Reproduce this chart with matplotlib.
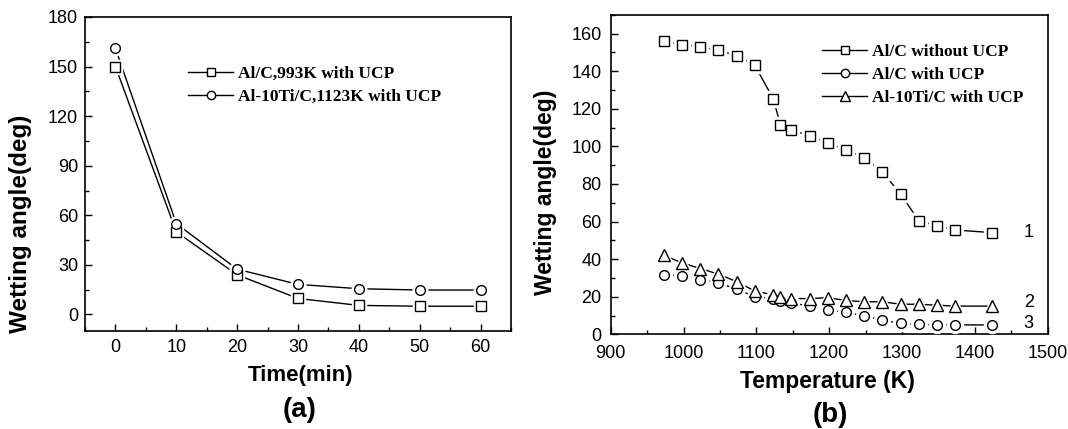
import matplotlib
matplotlib.use("Agg")
import matplotlib.pyplot as plt
from matplotlib.ticker import MultipleLocator

# ---------------- data ----------------
time_min = [0, 10, 20, 30, 40, 50, 60]
alc_993 = [150, 50, 24, 9.7, 5.5, 5, 5]
alti_1123 = [161, 55, 27.4, 18.2, 15.6, 14.8, 14.8]
left_labels = ["Al/C,993K with UCP", "Al-10Ti/C,1123K with UCP"]

temp_K = [973, 998, 1023, 1048, 1073, 1098, 1123, 1133, 1148, 1173,
          1198, 1223, 1248, 1273, 1298, 1323, 1348, 1373, 1423]
alc_without = [156, 154, 153, 151, 148.3, 143, 125.4, 111.6, 108.7, 105.7,
               101.8, 98.3, 94, 86.5, 74.6, 60.5, 57.6, 55.5, 54.1]
alc_with = [31.8, 31, 29, 27.4, 24, 20, 19, 17.9, 16.8, 15,
            12.9, 11.7, 9.9, 7.6, 5.8, 5.3, 5, 5, 5]
alti_with = [42, 38, 35, 32, 28, 23, 21, 20, 19, 19,
             19.5, 18, 17.3, 17.3, 16, 16, 15.5, 15, 15]
right_labels = ["Al/C without UCP", "Al/C with UCP", "Al-10Ti/C with UCP"]
curve_ids = ["1", "2", "3"]
curve_id_x = [1474, 1474, 1474]
curve_id_y = [54.3, 17, 5.5]

# ---------------- style ----------------
sans = ["Liberation Sans", "DejaVu Sans"]
serif = ["Liberation Serif", "DejaVu Serif"]
plt.rcParams["font.family"] = sans
fig = plt.figure(figsize=(10.68, 4.29), dpi=100)


def draw_series(ax, x, y, marker, ms, halo, label):
    ax.plot(x, y, color="black", lw=1.0, zorder=2)
    ax.plot(x, y, ls="none", marker=marker, ms=ms + halo, mfc="white",
            mec="white", mew=1.0, zorder=3)
    ax.plot(x, y, ls="none", marker=marker, ms=ms, mfc="white",
            mec="black", mew=1.0, zorder=4)
    return plt.Line2D([], [], color="black", lw=1.0, marker=marker,
                      ms=ms - 1, mfc="white", mec="black", mew=1.0, label=label)


def style_axes(ax, xpad, ypad):
    for s in ax.spines.values():
        s.set_linewidth(1.2)
    ax.tick_params(which="both", direction="in", top=False, right=False,
                   labelsize=13)
    ax.tick_params(which="major", length=5, width=1.0)
    ax.tick_params(which="minor", length=3, width=1.0)
    ax.tick_params(axis="x", pad=xpad)
    ax.tick_params(axis="y", pad=ypad)


# ---------------- (a) ----------------
ax1 = fig.add_axes([0.0796, 0.2284, 0.3989, 0.732])
h1 = draw_series(ax1, time_min, alc_993, "s", 6.5, 3.5, left_labels[0])
h2 = draw_series(ax1, time_min, alti_1123, "o", 7.0, 3.5, left_labels[1])
ax1.set_xlim(-5, 65)
ax1.set_ylim(-10, 180)
ax1.xaxis.set_major_locator(MultipleLocator(10))
ax1.xaxis.set_minor_locator(MultipleLocator(5))
ax1.yaxis.set_major_locator(MultipleLocator(30))
ax1.yaxis.set_minor_locator(MultipleLocator(15))
style_axes(ax1, 5.5, 5)
ax1.set_xlabel("Time(min)", fontweight="bold", fontsize=16)
ax1.set_ylabel("Wetting angle(deg)", fontweight="bold", fontsize=17.5)
ax1.xaxis.set_label_coords(0.505, -0.108)
ax1.yaxis.set_label_coords(-0.124, 0.341)
ax1.legend(handles=[h1, h2], loc="upper left", bbox_to_anchor=(0.242, 0.844),
           frameon=False, borderpad=0, borderaxespad=0, handlelength=2.6,
           handletextpad=0.3, labelspacing=0.4,
           prop={"family": serif, "weight": "bold", "size": 12.5})

# ---------------- (b) ----------------
ax2 = fig.add_axes([0.5718, 0.2207, 0.4092, 0.745])
g1 = draw_series(ax2, temp_K, alc_without, "s", 6.5, 4.5, right_labels[0])
g2 = draw_series(ax2, temp_K, alc_with, "o", 7.0, 4.5, right_labels[1])
g3 = draw_series(ax2, temp_K, alti_with, "^", 8.5, 4.5, right_labels[2])
ax2.set_xlim(900, 1500)
ax2.set_ylim(0, 170)
ax2.xaxis.set_major_locator(MultipleLocator(100))
ax2.xaxis.set_minor_locator(MultipleLocator(50))
ax2.yaxis.set_major_locator(MultipleLocator(20))
ax2.yaxis.set_minor_locator(MultipleLocator(10))
style_axes(ax2, 8, 6.5)
ax2.set_xlabel("Temperature (K)", fontweight="bold", fontsize=16.5)
ax2.set_ylabel("Wetting angle(deg)", fontweight="bold", fontsize=16.5)
ax2.xaxis.set_label_coords(0.497, -0.112)
ax2.yaxis.set_label_coords(-0.123, 0.444)
ax2.legend(handles=[g1, g2, g3], loc="upper left", bbox_to_anchor=(0.4835, 0.908),
           frameon=False, borderpad=0, borderaxespad=0, handlelength=2.6,
           handletextpad=0.3, labelspacing=0.4,
           prop={"family": serif, "weight": "bold", "size": 12.5})
for t, x, y in zip(curve_ids, curve_id_x, curve_id_y):
    ax2.text(x, y, t, fontsize=13, ha="center", va="center")

fig.text(300 / 1068, 1 - 410 / 429, "(a)", fontweight="bold",
         fontsize=20, ha="center", va="center")
fig.text(830 / 1068, 1 - 415 / 429, "(b)", fontweight="bold",
         fontsize=20, ha="center", va="center")

fig.savefig("out.png", dpi=100)
